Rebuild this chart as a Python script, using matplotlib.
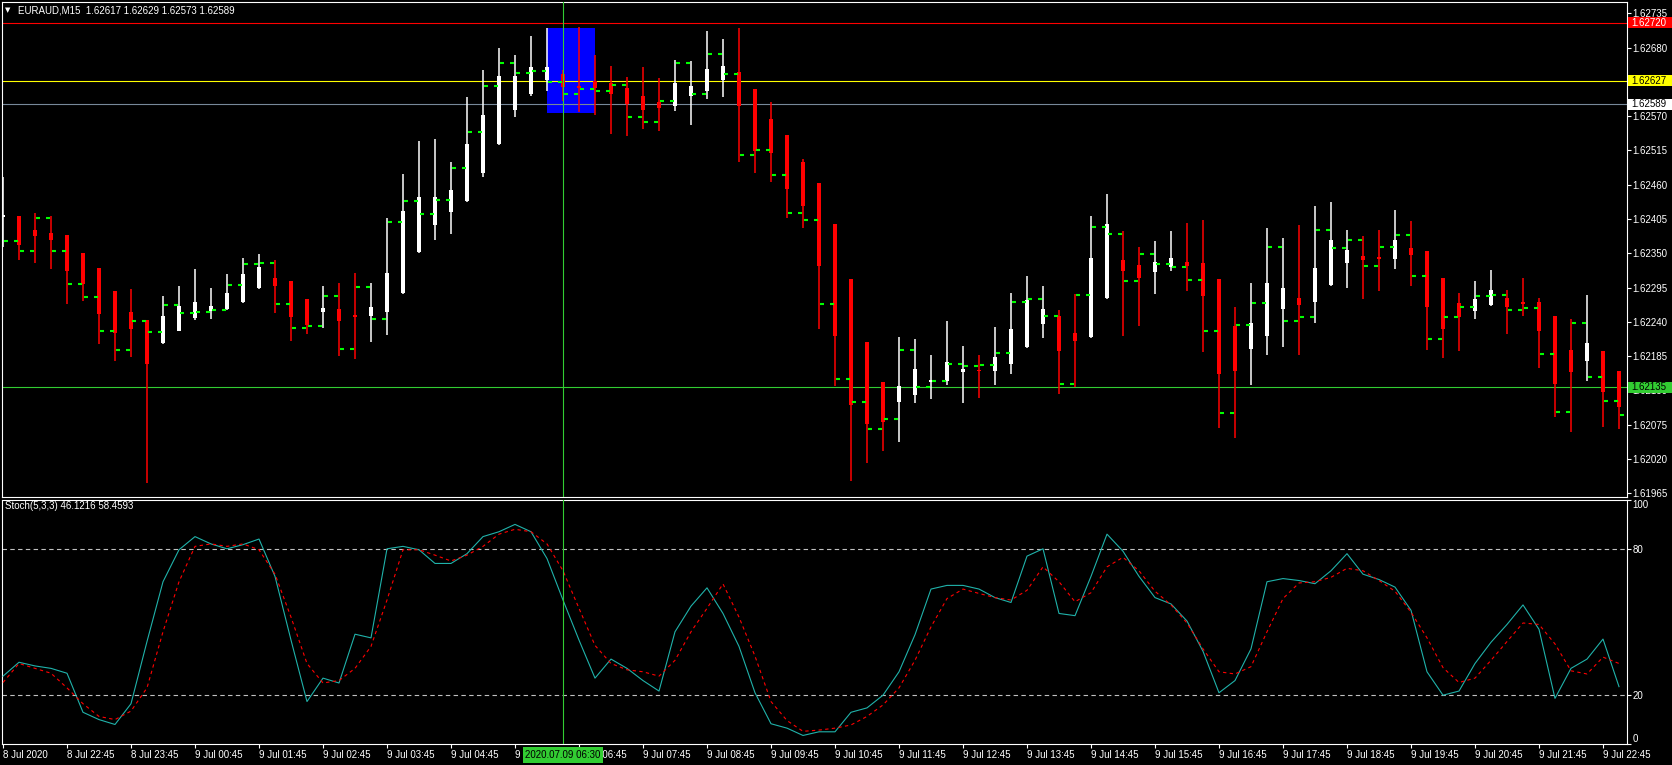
import matplotlib
matplotlib.use("Agg")
import numpy as np
import matplotlib.pyplot as plt
from matplotlib.patches import Rectangle
from matplotlib.transforms import IdentityTransform

plt.rcParams['font.family'] = ['Liberation Sans', 'DejaVu Sans']

# K 線資料 (EURAUD M15, 8 Jul 21:45 起, 共 102 根)
opens = [1.62408, 1.62409, 1.62387, 1.62383, 1.62379, 1.62350, 1.62326, 1.62289, 1.62255, 1.62243,
         1.62206, 1.62226, 1.62246, 1.62257, 1.62260, 1.62272, 1.62294, 1.62311, 1.62305, 1.62276,
         1.62255, 1.62260, 1.62251, 1.62249, 1.62256, 1.62286, 1.62352, 1.62395, 1.62416, 1.62433,
         1.62478, 1.62525, 1.62579, 1.62605, 1.62628, 1.62637, 1.62618, 1.62626, 1.62623, 1.62615,
         1.62602, 1.62592, 1.62586, 1.62603, 1.62610, 1.62628, 1.62640, 1.62613, 1.62565, 1.62539,
         1.62496, 1.62462, 1.62397, 1.62308, 1.62207, 1.62143, 1.62111, 1.62122, 1.62144, 1.62145,
         1.62159, 1.62162, 1.62161, 1.62172, 1.62199, 1.62236, 1.62249, 1.62222, 1.62215, 1.62278,
         1.62339, 1.62331, 1.62320, 1.62328, 1.62336, 1.62334, 1.62308, 1.62233, 1.62196, 1.62217,
         1.62260, 1.62278, 1.62271, 1.62299, 1.62334, 1.62345, 1.62344, 1.62340, 1.62358, 1.62353,
         1.62310, 1.62270, 1.62257, 1.62267, 1.62279, 1.62271, 1.62271, 1.62249, 1.62194, 1.62177,
         1.62193, 1.62161]
highs = [1.62472, 1.62409, 1.62414, 1.62409, 1.62379, 1.62350, 1.62326, 1.62289, 1.62292, 1.62243,
         1.62281, 1.62297, 1.62324, 1.62295, 1.62316, 1.62342, 1.62348, 1.62339, 1.62305, 1.62276,
         1.62297, 1.62303, 1.62318, 1.62302, 1.62406, 1.62477, 1.62530, 1.62533, 1.62496, 1.62600,
         1.62644, 1.62679, 1.62668, 1.62698, 1.62711, 1.62644, 1.62713, 1.62668, 1.62650, 1.62632,
         1.62648, 1.62631, 1.62660, 1.62658, 1.62706, 1.62693, 1.62711, 1.62613, 1.62592, 1.62539,
         1.62501, 1.62462, 1.62397, 1.62308, 1.62207, 1.62143, 1.62215, 1.62212, 1.62186, 1.62241,
         1.62202, 1.62186, 1.62231, 1.62287, 1.62313, 1.62297, 1.62259, 1.62284, 1.62409, 1.62445,
         1.62385, 1.62360, 1.62369, 1.62385, 1.62398, 1.62403, 1.62308, 1.62263, 1.62302, 1.62390,
         1.62374, 1.62395, 1.62425, 1.62432, 1.62387, 1.62377, 1.62387, 1.62419, 1.62401, 1.62353,
         1.62310, 1.62287, 1.62305, 1.62323, 1.62291, 1.62310, 1.62279, 1.62249, 1.62244, 1.62283,
         1.62193, 1.62161]
lows = [1.62360, 1.62339, 1.62334, 1.62324, 1.62269, 1.62273, 1.62204, 1.62177, 1.62183, 1.61982,
        1.62204, 1.62225, 1.62243, 1.62245, 1.62259, 1.62270, 1.62293, 1.62254, 1.62209, 1.62221,
        1.62230, 1.62185, 1.62180, 1.62208, 1.62219, 1.62285, 1.62350, 1.62371, 1.62381, 1.62432,
        1.62472, 1.62524, 1.62569, 1.62603, 1.62610, 1.62595, 1.62576, 1.62571, 1.62541, 1.62538,
        1.62549, 1.62546, 1.62578, 1.62555, 1.62597, 1.62600, 1.62496, 1.62478, 1.62464, 1.62406,
        1.62390, 1.62228, 1.62137, 1.61984, 1.62013, 1.62032, 1.62048, 1.62109, 1.62116, 1.62138,
        1.62109, 1.62117, 1.62138, 1.62156, 1.62198, 1.62214, 1.62125, 1.62135, 1.62214, 1.62276,
        1.62218, 1.62234, 1.62284, 1.62321, 1.62289, 1.62191, 1.62069, 1.62053, 1.62138, 1.62186,
        1.62199, 1.62186, 1.62238, 1.62297, 1.62295, 1.62276, 1.62289, 1.62324, 1.62297, 1.62194,
        1.62182, 1.62193, 1.62244, 1.62265, 1.62220, 1.62249, 1.62166, 1.62087, 1.62064, 1.62145,
        1.62072, 1.62068]
closes = [1.62411, 1.62363, 1.62377, 1.62372, 1.62322, 1.62301, 1.62253, 1.62222, 1.62228, 1.62172,
          1.62249, 1.62265, 1.62271, 1.62265, 1.62286, 1.62316, 1.62328, 1.62298, 1.62248, 1.62235,
          1.62262, 1.62241, 1.62248, 1.62263, 1.62318, 1.62417, 1.62441, 1.62440, 1.62451, 1.62525,
          1.62571, 1.62634, 1.62634, 1.62648, 1.62648, 1.62616, 1.62615, 1.62615, 1.62605, 1.62589,
          1.62579, 1.62583, 1.62623, 1.62619, 1.62645, 1.62650, 1.62586, 1.62514, 1.62510, 1.62453,
          1.62425, 1.62329, 1.62218, 1.62106, 1.62076, 1.62080, 1.62137, 1.62164, 1.62146, 1.62175,
          1.62164, 1.62161, 1.62183, 1.62228, 1.62275, 1.62260, 1.62193, 1.62210, 1.62342, 1.62397,
          1.62321, 1.62311, 1.62336, 1.62342, 1.62329, 1.62281, 1.62157, 1.62161, 1.62238, 1.62303,
          1.62294, 1.62267, 1.62326, 1.62372, 1.62355, 1.62339, 1.62340, 1.62372, 1.62347, 1.62263,
          1.62228, 1.62247, 1.62276, 1.62291, 1.62263, 1.62269, 1.62225, 1.62140, 1.62159, 1.62206,
          1.62127, 1.62103]

# 綠色短橫線指標
dash_vals = [1.62370, 1.62354, 1.62406, 1.62354, 1.62300, 1.62280, 1.62226, 1.62194, 1.62241, 1.62223,
             1.62267, 1.62254, 1.62255, 1.62259, 1.62299, 1.62332, 1.62334, 1.62268, 1.62230, 1.62233,
             1.62281, 1.62196, 1.62296, 1.62245, 1.62400, 1.62433, 1.62413, 1.62435, 1.62486, 1.62544,
             1.62618, 1.62655, 1.62639, 1.62642, 1.62625, 1.62605, 1.62613, 1.62610, 1.62620, 1.62568,
             1.62560, 1.62595, 1.62655, 1.62605, 1.62670, 1.62637, 1.62508, 1.62515, 1.62476, 1.62415,
             1.62403, 1.62268, 1.62149, 1.62111, 1.62068, 1.62084, 1.62194, 1.62136, 1.62145, 1.62172,
             1.62169, 1.62170, 1.62190, 1.62272, 1.62277, 1.62249, 1.62141, 1.62283, 1.62392, 1.62381,
             1.62306, 1.62348, 1.62332, 1.62328, 1.62307, 1.62225, 1.62093, 1.62235, 1.62270, 1.62360,
             1.62241, 1.62248, 1.62388, 1.62358, 1.62371, 1.62329, 1.62360, 1.62379, 1.62313, 1.62212,
             1.62247, 1.62263, 1.62281, 1.62283, 1.62259, 1.62262, 1.62188, 1.62095, 1.62238, 1.62151,
             1.62113, 1.62090]

# Stoch(5,3,3)
stoch_k = [27.8, 33.5, 32, 31, 29, 13, 10, 8, 16.5, 42,
           66.5, 79.6, 85, 82, 80, 81.7, 84, 68.7, 42.6, 17.4,
           27, 25, 45, 43.5, 80, 81, 79.6, 74, 74, 78,
           85, 87, 90, 87, 76, 59, 42.6, 27, 34.8, 31,
           26, 21.7, 46, 56.5, 64, 53.5, 40, 21, 8.3, 6.5,
           3.5, 5, 5, 13, 14.8, 20, 29.6, 44.8, 63.5, 65,
           65, 63.5, 60, 58, 77, 80, 53.5, 52.6, 68.7, 86,
           79, 68.7, 60, 57.4, 50.4, 38, 21, 26, 39, 66.5,
           67.8, 67, 65.7, 71, 78, 69.6, 67.4, 64.3, 54.8, 29.6,
           20, 21.7, 33, 41.7, 49, 57, 47, 18.7, 31, 34.8,
           43, 23.5]
stoch_d = [25.2, 33, 31, 29, 23, 16.5, 11.3, 10, 13.5, 23,
           46, 66.5, 81, 82, 81, 82, 79.6, 69.6, 52, 33,
           25, 26, 31, 40, 59, 79.6, 79.6, 77.4, 75, 77.4,
           81, 86, 88, 87, 82, 71, 55.6, 40.4, 33, 30.4,
           29.6, 27.8, 34.3, 46, 55.6, 65.6, 52, 36, 17.4, 9.6,
           5.2, 5.7, 6.5, 7.8, 11.3, 16, 23, 34.3, 48, 59.6,
           63.5, 61.7, 60, 59, 63, 72.6, 66.5, 58.3, 62, 72.6,
           76.5, 71, 62.6, 57, 49.6, 39, 29.6, 28.7, 31.7, 46,
           59.6, 66, 66.5, 68.3, 72, 71, 67, 62.6, 54, 43.5,
           31.3, 25.2, 27, 34.3, 42, 49.6, 49, 41, 30, 28.7,
           35.6, 33]
stoch_levels = [20, 80]
stoch_ticks = [0, 20, 80, 100]

# 水平線 (價格, 顏色, 標籤底色, 標籤字色)
level_prices = [1.62720, 1.62627, 1.62589, 1.62135]
level_colors = ['#ff0000', '#ffff00', '#778899', '#32cd32']
label_bg = ['#ff0000', '#ffff00', '#ffffff', '#32cd32']
label_fg = ['#ffffff', '#000000', '#000000', '#000000']

# 藍色矩形 (K 線序號, 價格)
box_x = [34, 37]
box_prices = [1.62575, 1.62711]

cross_bar = 35
cross_label = '2020.07.09 06:30'

price_ticks = [1.61965, 1.62020, 1.62075, 1.62130, 1.62185, 1.62240, 1.62295, 1.62350,
               1.62405, 1.62460, 1.62515, 1.62570, 1.62625, 1.62680, 1.62735]
time_ticks = list(range(0, 101, 4))
time_labels = ['8 Jul 2020', '8 Jul 22:45', '8 Jul 23:45', '9 Jul 00:45', '9 Jul 01:45',
               '9 Jul 02:45', '9 Jul 03:45', '9 Jul 04:45', '9 Jul 05:45', '9 Jul 06:45',
               '9 Jul 07:45', '9 Jul 08:45', '9 Jul 09:45', '9 Jul 10:45', '9 Jul 11:45',
               '9 Jul 12:45', '9 Jul 13:45', '9 Jul 14:45', '9 Jul 15:45', '9 Jul 16:45',
               '9 Jul 17:45', '9 Jul 18:45', '9 Jul 19:45', '9 Jul 20:45', '9 Jul 21:45',
               '9 Jul 22:45']

title = 'EURAUD,M15  1.62617 1.62629 1.62573 1.62589'
stoch_title = 'Stoch(5,3,3) 46.1216 58.4593'

W, H = 1672, 765
FS = 7
BEAR = '#ff0000'
BULL = '#ffffff'


def px_box(x0, y0, x1, y1):
    """像素框 (左上原點) -> figure 座標"""
    return [x0 / W, 1 - y1 / H, (x1 - x0) / W, (y1 - y0) / H]


fig = plt.figure(figsize=(W / 100, H / 100), dpi=100, facecolor='black')
ax = fig.add_axes(px_box(2, 2, 1627, 497))
ax2 = fig.add_axes(px_box(2, 500, 1627, 744))

for a in (ax, ax2):
    a.set_facecolor('black')
    for s in a.spines.values():
        s.set_color('white')
        s.set_linewidth(0.8)
    a.set_xlim(-0.0625, 101.5)

ax.set_ylim(1.61959, 1.62753)
ax2.set_ylim(0, 100)

# 藍色矩形
ax.add_patch(Rectangle((box_x[0], box_prices[0]), box_x[1] - box_x[0],
                       box_prices[1] - box_prices[0], fc='#0000ff', ec='none', zorder=1))

# 水平線
for p, col in zip(level_prices, level_colors):
    ax.axhline(p, color=col, lw=0.8, zorder=2)

# K 線
x = np.arange(len(opens))
o = np.array(opens)
h = np.array(highs)
l = np.array(lows)
c = np.array(closes)
cols = np.where(c > o, BULL, BEAR)
ax.vlines(x, l, h, colors=cols, lw=1.1, zorder=3)
body_lo = np.minimum(o, c)
body_h = np.maximum(np.abs(c - o), 0.00002)
ax.bar(x, body_h, bottom=body_lo, width=0.31, color=cols, lw=0, zorder=3)

# 綠色短橫線
d = np.array(dash_vals)
ax.hlines(d, x + 0.04, x + 0.29, colors='#00ff00', lw=1.5, zorder=4)
ax.hlines(d[:-1], x[1:] - 0.33, x[1:] - 0.08, colors='#00ff00', lw=1.5, zorder=4)

# 十字線
for a in (ax, ax2):
    a.axvline(cross_bar, color='#32cd32', lw=0.8, zorder=5)

# 價格軸
ax.yaxis.tick_right()
ax.set_yticks(price_ticks)
ax.set_yticklabels([f'{p:.5f}' for p in price_ticks])
ax.tick_params(axis='y', colors='white', length=3, width=0.8, pad=1, labelsize=FS)
ax.tick_params(axis='x', bottom=False, labelbottom=False)

# Stoch 面板
ax2.plot(x, stoch_k, color='#20b2aa', lw=0.8, zorder=3)
ax2.plot(x, stoch_d, color='#ff0000', lw=0.8, ls=(0, (3, 3)), zorder=3)
for lv in stoch_levels:
    ax2.axhline(lv, color='#c0c0c0', lw=0.8, ls=(0, (4, 3)), zorder=2)
ax2.yaxis.tick_right()
ax2.set_yticks(stoch_ticks)
ax2.set_yticklabels([str(t) for t in stoch_ticks])
ax2.tick_params(axis='y', colors='white', length=3, width=0.8, pad=1, labelsize=FS)
ylabs = ax2.get_yticklabels()
ylabs[0].set_va('bottom')
ylabs[-1].set_va('top')

ax2.set_xticks(time_ticks)
ax2.set_xticklabels(time_labels, ha='left')
ax2.tick_params(axis='x', colors='white', length=3, width=0.8, pad=1.5, labelsize=FS)

# 價格標籤
fig.canvas.draw()
for p, bg, fg in zip(level_prices, label_bg, label_fg):
    yd = ax.transData.transform((0, p))[1]
    fig.add_artist(Rectangle((1628, yd - 5.5), 44, 11, transform=IdentityTransform(),
                             fc=bg, ec='none', zorder=10))
    fig.text(1631 / W, yd / H, f'{p:.5f}', color=fg, fontsize=FS, va='center',
             ha='left', zorder=11)

# 十字線時間標籤
xd = ax2.transData.transform((cross_bar, 0))[0]
fig.add_artist(Rectangle((xd - 40, H - 763), 80, 16, transform=IdentityTransform(),
                         fc='#32cd32', ec='none', zorder=10))
fig.text(xd / W, (H - 755) / H, cross_label, color='black', fontsize=FS,
         ha='center', va='center', zorder=11)

# 標題
fig.text(5 / W, 1 - 10.5 / H, '▼', color='white', fontsize=5, va='center',
         family=['DejaVu Sans'])
fig.text(18 / W, 1 - 10.5 / H, title, color='white', fontsize=FS, va='center')
fig.text(5 / W, 1 - 506 / H, stoch_title, color='white', fontsize=FS, va='center')

fig.savefig('out.png', dpi=100, facecolor='black')
